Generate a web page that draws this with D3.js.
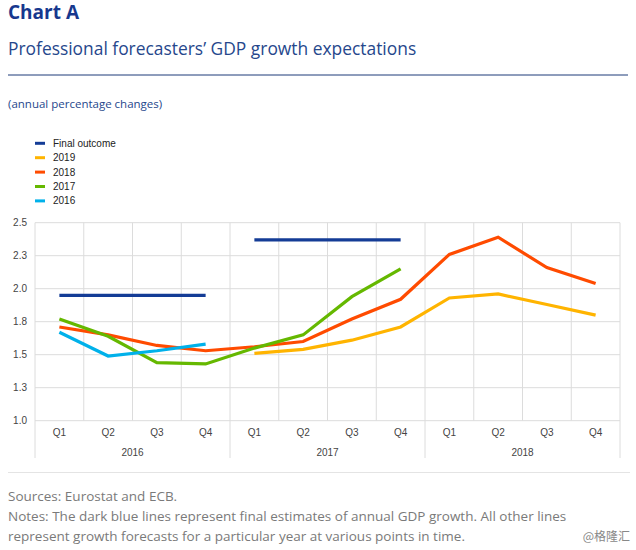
<!DOCTYPE html>
<html><head><meta charset="utf-8">
<script src="https://cdn.jsdelivr.net/npm/d3@7"></script>
<style>body{margin:0;background:#fff}svg{display:block}</style>
</head><body>
<script>
const years = ["2016","2017","2018"];
const quarters = ["Q1","Q2","Q3","Q4"];
const periods = years.flatMap(y => quarters.map(q => y + q));
const yTicks = [1.0,1.25,1.5,1.75,2.0,2.25,2.5];

// forecasts (null = no value)
const f2016 = [1.67,1.49,1.53,1.58, null,null,null,null, null,null,null,null];
const f2017 = [1.77,1.64,1.44,1.43, 1.55,1.65,1.94,2.15, null,null,null,null];
const f2018 = [1.71,1.65,1.57,1.53, 1.56,1.60,1.77,1.92, 2.26,2.39,2.16,2.04];
const f2019 = [null,null,null,null, 1.51,1.54,1.61,1.71, 1.93,1.96,1.88,1.80];
const final2016 = [1.95,1.95,1.95,1.95, null,null,null,null, null,null,null,null];
const final2017 = [null,null,null,null, 2.37,2.37,2.37,2.37, null,null,null,null];

const legendNames = ["Final outcome","2019","2018","2017","2016"];
const colors = {"Final outcome":"#143c96","2019":"#ffb400","2018":"#ff4b00","2017":"#65b800","2016":"#00b1ea"};

const W=636,H=550;
const svg=d3.select("body").append("svg").attr("width",W).attr("height",H);
const m={left:35,right:620,top:222.7,bottom:420.7};
const x=d3.scaleBand().domain(periods).range([m.left,m.right]);
const y=d3.scaleLinear().domain([1,2.5]).range([m.bottom,m.top]);

// titles
svg.append("text").attr("x",8).attr("y",18.5).attr("font-family","Open Sans").attr("font-weight",700)
  .attr("font-size",19).attr("fill","#17388e").text("Chart A");
svg.append("text").attr("x",8).attr("y",55).attr("font-family","Open Sans")
  .attr("font-size",17.4).attr("fill","#26478c").text("Professional forecasters’ GDP growth expectations");
svg.append("line").attr("x1",8).attr("x2",628).attr("y1",75).attr("y2",75).attr("stroke","#1c3a78").attr("stroke-width",1);
svg.append("text").attr("x",8).attr("y",108).attr("font-family","Open Sans")
  .attr("font-size",11.5).attr("fill","#26478c").text("(annual percentage changes)");

// legend
const lg=svg.append("g");
legendNames.forEach((n,i)=>{
  const yy=143.3+i*14.4;
  lg.append("line").attr("x1",35).attr("x2",45).attr("y1",yy).attr("y2",yy).attr("stroke",colors[n]).attr("stroke-width",3);
  lg.append("text").attr("x",53).attr("y",yy+3.5).attr("font-family","Liberation Sans, Arial").attr("font-size",10).attr("fill","#222").text(n);
});

// grid
const grid=svg.append("g");
yTicks.forEach(t=>{
  grid.append("line").attr("x1",m.left).attr("x2",m.right).attr("y1",y(t)).attr("y2",y(t)).attr("stroke","#dcdcdc").attr("stroke-width",1);
});
periods.forEach((p,i)=>{
  const xx=x(p);
  const isYear = i%4===0;
  grid.append("line").attr("x1",xx).attr("x2",xx).attr("y1",m.top).attr("y2",isYear?458:m.bottom)
    .attr("stroke","#dcdcdc").attr("stroke-width",1);
});
grid.append("line").attr("x1",m.right).attr("x2",m.right).attr("y1",m.top).attr("y2",458).attr("stroke","#dcdcdc");

// y axis
const yAxis=d3.axisLeft(y).tickValues(yTicks).tickSize(0).tickPadding(8).tickFormat(d3.format(".1f"));
const ya=svg.append("g").attr("transform",`translate(${m.left},0)`).call(yAxis);
ya.select(".domain").remove();
ya.selectAll("text").attr("font-family","Liberation Sans, Arial").attr("font-size",10).attr("fill","#444");

// x axis
const xAxis=d3.axisBottom(x).tickSize(0).tickPadding(8).tickFormat(d=>d.slice(4));
const xa=svg.append("g").attr("transform",`translate(0,${m.bottom})`).call(xAxis);
xa.select(".domain").remove();
xa.selectAll("text").attr("font-family","Liberation Sans, Arial").attr("font-size",10).attr("fill","#444");
years.forEach(yr=>{
  const cx=(x(yr+"Q1")+x(yr+"Q4")+x.bandwidth())/2;
  svg.append("text").attr("x",cx).attr("y",455.5).attr("text-anchor","middle")
    .attr("font-family","Liberation Sans, Arial").attr("font-size",10).attr("fill","#444").text(yr);
});

// lines
const line=d3.line().defined(d=>d.v!=null).x(d=>x(d.p)+x.bandwidth()/2).y(d=>y(d.v));
const series=[
  {name:"2019",vals:f2019},
  {name:"2018",vals:f2018},
  {name:"2017",vals:f2017},
  {name:"2016",vals:f2016},
  {name:"Final outcome",vals:final2016},
  {name:"Final outcome",vals:final2017}
];
series.forEach(s=>{
  svg.append("path").datum(periods.map((p,i)=>({p,v:s.vals[i]})))
    .attr("d",line).attr("fill","none").attr("stroke",colors[s.name]).attr("stroke-width",3.2);
});

// footer
svg.append("line").attr("x1",8).attr("x2",630).attr("y1",472.5).attr("y2",472.5).attr("stroke","#e4e4e4");
const ft=[["Sources: Eurostat and ECB.",501],
  ["Notes: The dark blue lines represent final estimates of annual GDP growth. All other lines",521],
  ["represent growth forecasts for a particular year at various points in time.",541]];
ft.forEach(([t,yy])=>svg.append("text").attr("x",8).attr("y",yy).attr("font-family","Open Sans").attr("font-size",13.5).attr("fill","#7a7a7a").text(t));
svg.append("text").attr("x",630).attr("y",541).attr("text-anchor","end").attr("font-family","Noto Sans CJK SC").attr("font-size",12).attr("fill","#888").text("@格隆汇");
</script>
</body></html>
